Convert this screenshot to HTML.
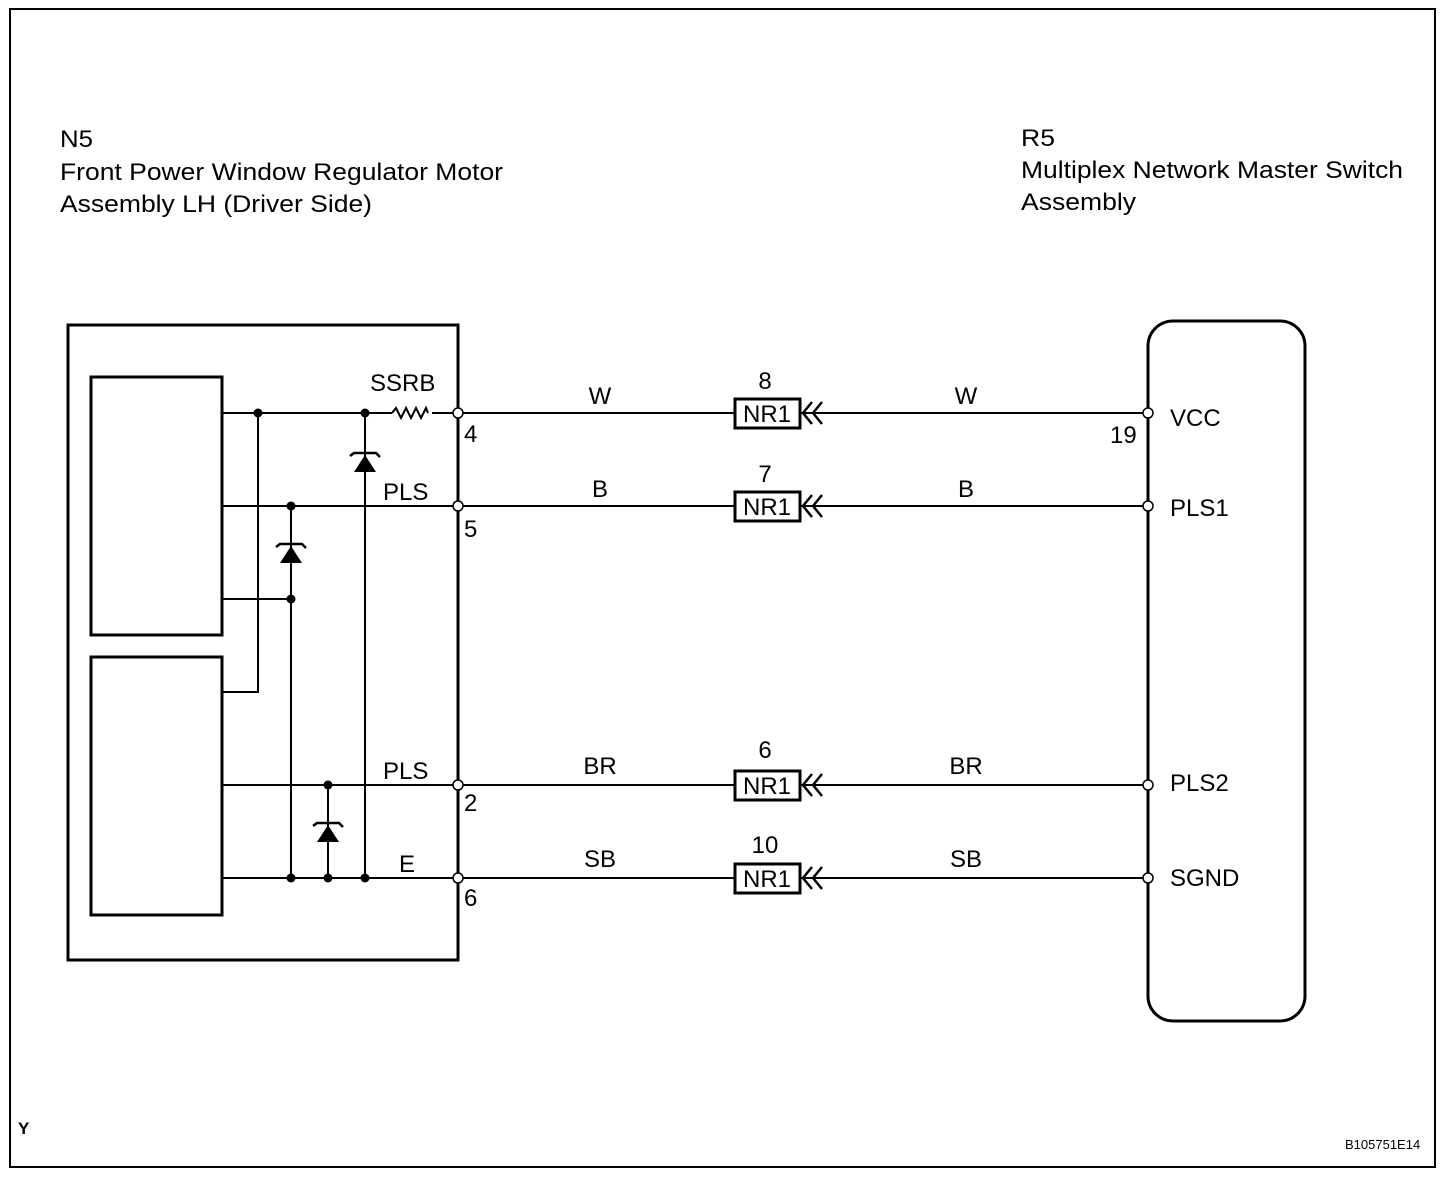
<!DOCTYPE html>
<html><head><style>
body{margin:0;background:#fff}
svg text{font-family:"Liberation Sans",sans-serif;fill:#000}
</style></head><body>
<svg width="1456" height="1172" viewBox="0 0 1456 1172" xmlns="http://www.w3.org/2000/svg">
<rect x="10" y="9" width="1425" height="1158" fill="none" stroke="#000" stroke-width="2"/>
<g font-size="24">
<text x="60" y="147" textLength="33" lengthAdjust="spacingAndGlyphs">N5</text>
<text x="60" y="180" textLength="443" lengthAdjust="spacingAndGlyphs">Front Power Window Regulator Motor</text>
<text x="60" y="212" textLength="312" lengthAdjust="spacingAndGlyphs">Assembly LH (Driver Side)</text>
<text x="1021" y="146" textLength="34" lengthAdjust="spacingAndGlyphs">R5</text>
<text x="1021" y="178" textLength="382" lengthAdjust="spacingAndGlyphs">Multiplex Network Master Switch</text>
<text x="1021" y="210" textLength="115" lengthAdjust="spacingAndGlyphs">Assembly</text>
</g>
<text x="18" y="1134" font-size="17" font-weight="bold">Y</text>
<text x="1345" y="1149" font-size="13">B105751E14</text>
<g fill="none" stroke="#000">
<rect x="68" y="325" width="390" height="635" stroke-width="3"/>
<rect x="91" y="377" width="131" height="258" stroke-width="3"/>
<rect x="91" y="657" width="131" height="258" stroke-width="3"/>
<rect x="1148" y="321" width="157" height="700" rx="25" stroke-width="3"/>
<g stroke-width="2">
<path d="M222 413H392M432 413H458"/>
<path d="M392 413l4 -5 5 10 5 -10 5 10 5 -10 5 10 5 -10 2 5"/>
<path d="M222 506H458M222 599H291M222 692H258V413M365 413V878M291 506V878M328 785V878M222 785H458M222 878H458"/>
<path d="M458 413H735M800 413H1148M458 506H735M800 506H1148M458 785H735M800 785H1148M458 878H735M800 878H1148"/>
</g>
</g>
<g fill="#000">
<circle cx="258" cy="413" r="4.5"/><circle cx="365" cy="413" r="4.5"/>
<circle cx="291" cy="506" r="4.5"/><circle cx="291" cy="599" r="4.5"/>
<circle cx="328" cy="785" r="4.5"/><circle cx="291" cy="878" r="4.5"/><circle cx="328" cy="878" r="4.5"/><circle cx="365" cy="878" r="4.5"/>
<path d="M365 455l-11 17h22z"/><path d="M291 546l-11 17h22z"/><path d="M328 825l-11 17h22z"/>
</g>
<g fill="none" stroke="#000" stroke-width="2.5">
<path d="M350 456l4 -3h22l4 4M276 547l4 -3h22l4 4M313 826l4 -3h22l4 4"/>
</g>
<g fill="#fff" stroke="#000" stroke-width="1.5">
<circle cx="458" cy="413" r="5"/><circle cx="458" cy="506" r="5"/><circle cx="458" cy="785" r="5"/><circle cx="458" cy="878" r="5"/>
<circle cx="1148" cy="413" r="5"/><circle cx="1148" cy="506" r="5"/><circle cx="1148" cy="785" r="5"/><circle cx="1148" cy="878" r="5"/>
</g>
<g fill="#fff" stroke="#000" stroke-width="3">
<rect x="735" y="399" width="65" height="29"/><rect x="735" y="492" width="65" height="29"/><rect x="735" y="771" width="65" height="29"/><rect x="735" y="864" width="65" height="29"/>
</g>
<g fill="none" stroke="#000" stroke-width="2.5">
<path d="M812 402l-9 11 9 11M822 402l-9 11 9 11"/>
<path d="M812 495l-9 11 9 11M822 495l-9 11 9 11"/>
<path d="M812 774l-9 11 9 11M822 774l-9 11 9 11"/>
<path d="M812 867l-9 11 9 11M822 867l-9 11 9 11"/>
</g>
<g font-size="24">
<text x="767" y="422" text-anchor="middle">NR1</text><text x="767" y="515" text-anchor="middle">NR1</text><text x="767" y="794" text-anchor="middle">NR1</text><text x="767" y="887" text-anchor="middle">NR1</text>
<text x="765" y="389" text-anchor="middle">8</text><text x="765" y="482" text-anchor="middle">7</text><text x="765" y="758" text-anchor="middle">6</text><text x="765" y="853" text-anchor="middle">10</text>
<text x="600" y="404" text-anchor="middle">W</text><text x="966" y="404" text-anchor="middle">W</text>
<text x="600" y="497" text-anchor="middle">B</text><text x="966" y="497" text-anchor="middle">B</text>
<text x="600" y="774" text-anchor="middle">BR</text><text x="966" y="774" text-anchor="middle">BR</text>
<text x="600" y="867" text-anchor="middle">SB</text><text x="966" y="867" text-anchor="middle">SB</text>
<text x="370" y="391">SSRB</text><text x="383" y="500">PLS</text><text x="383" y="779">PLS</text><text x="399" y="872">E</text>
<text x="464" y="442">4</text><text x="464" y="537">5</text><text x="464" y="811">2</text><text x="464" y="906">6</text>
<text x="1110" y="443">19</text>
<text x="1170" y="426">VCC</text><text x="1170" y="516">PLS1</text><text x="1170" y="791">PLS2</text><text x="1170" y="886">SGND</text>
</g>
</svg>
</body></html>
